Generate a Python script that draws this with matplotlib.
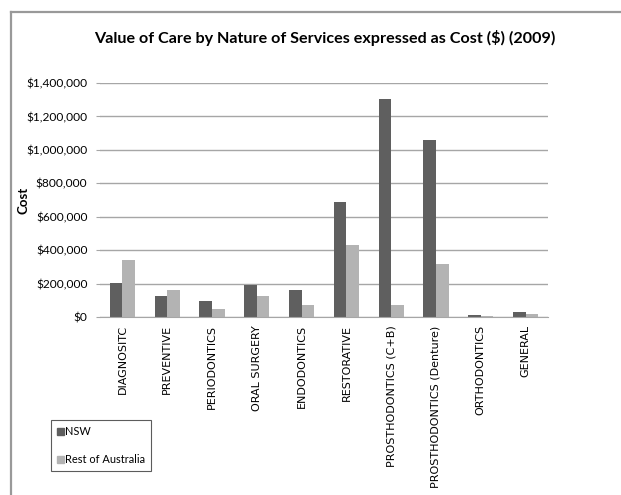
import matplotlib.pyplot as plt
import numpy as np
from matplotlib.lines import Line2D
from matplotlib.patches import Patch
from matplotlib.ticker import FuncFormatter

# Cost by nature of service, 2009
categories = ['DIAGNOSITC', 'PREVENTIVE', 'PERIODONTICS', 'ORAL SURGERY',
              'ENDODONTICS', 'RESTORATIVE', 'PROSTHODONTICS (C+B)',
              'PROSTHODONTICS (Denture)', 'ORTHODONTICS', 'GENERAL']
nsw = [203000, 126000, 98000, 189000, 161000, 690000, 1306000, 1059000, 12000, 30000]
rest_of_aus = [343000, 161000, 50000, 126000, 72000, 431000, 72000, 317000, 6000, 18000]

W, H = 621, 495
fig = plt.figure(figsize=(W / 100, H / 100), dpi=100)
ax = fig.add_axes([100 / W, 1 - 317 / H, 448 / W, 234 / H])

x = np.arange(len(categories))
bw = 0.28
ax.bar(x - bw / 2, nsw, bw, color='#5f5f5f', label='NSW')
ax.bar(x + bw / 2, rest_of_aus, bw, color='#b3b3b3', label='Rest of Australia')

ax.set_xlim(-0.5, len(categories) - 0.5)
ax.set_ylim(0, 1400000)
ax.set_yticks(np.arange(0, 1400001, 200000))
ax.yaxis.set_major_formatter(FuncFormatter(lambda v, p: '${:,.0f}'.format(v)))
ax.grid(axis='y', color='#a6a6a6', linewidth=1)
ax.set_axisbelow(True)

for s in ['top', 'right', 'left']:
    ax.spines[s].set_visible(False)
ax.spines['bottom'].set_color('#a6a6a6')

ax.tick_params(axis='y', length=3, color='#a6a6a6', labelsize=8.6, pad=6)
ax.tick_params(axis='x', length=0, pad=6)
for t in ax.get_yticklabels():
    t.set_family('Lato')
ax.set_xticks(x)
ax.set_xticklabels(categories, rotation=90, fontsize=8, family='DejaVu Sans', va='top')

ax.set_ylabel('Cost', fontsize=9.5, fontweight='bold', family='Lato')
ax.yaxis.set_label_coords(-70 / 448, 0.5)

fig.text(325 / W, 1 - 38 / H, 'Value of Care by Nature of Services expressed as Cost ($) (2009)',
         ha='center', va='center', fontsize=11.6, fontweight='bold', family='Lato')

# chart border (left and top edges)
fig.add_artist(Line2D([10.5 / W, 10.5 / W], [0, 1 - 11.5 / H], color='#999999', linewidth=1.6))
fig.add_artist(Line2D([10.5 / W, 1], [1 - 11.5 / H, 1 - 11.5 / H], color='#999999', linewidth=1.6))

handles = [Patch(color='#5f5f5f'), Patch(color='#b3b3b3')]
leg = fig.legend(handles, ['NSW', 'Rest of Australia'], loc='upper left',
                 bbox_to_anchor=(51 / W, 1 - 420 / H), frameon=True, fancybox=False,
                 prop={'family': 'Lato', 'size': 7.9}, handlelength=0.6, handleheight=0.6,
                 handletextpad=0.12, labelspacing=1.55, borderpad=0.55, borderaxespad=0)
leg.get_frame().set_edgecolor('#333333')
leg.get_frame().set_linewidth(0.8)

fig.savefig('out.png', dpi=100)
